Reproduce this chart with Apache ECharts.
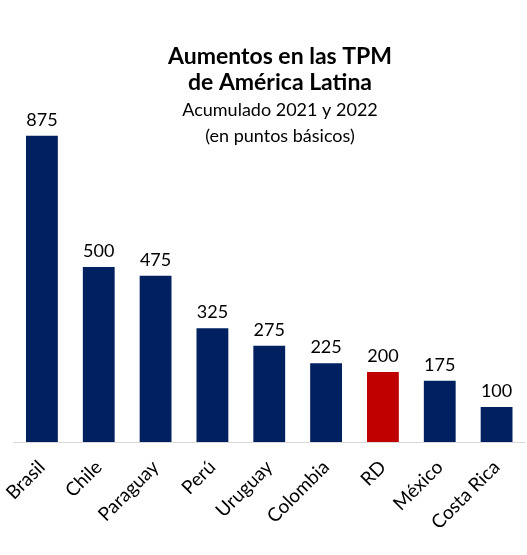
<!DOCTYPE html>
<html>
<head>
<meta charset="utf-8">
<script src="https://cdn.jsdelivr.net/npm/echarts@6/dist/echarts.min.js"></script>
<style>
  html, body { margin: 0; padding: 0; background: #fff; }
  #chart { width: 527px; height: 555px; }
</style>
</head>
<body>
<div id="chart"></div>
<script>
const countries = ["Brasil", "Chile", "Paraguay", "Perú", "Uruguay", "Colombia", "RD", "México", "Costa Rica"]
const increases = [875, 500, 475, 325, 275, 225, 200, 175, 100]
const highlighted = "RD"

const font = "Lato, 'DejaVu Sans', sans-serif"
const navy = "#002060"
const red = "#c00000"

const chart = echarts.init(document.getElementById("chart"))
const option = {
  animation: false,
  title: [
    {
      text: "Aumentos en las TPM\nde América Latina",
      left: 275,
      top: 39,
      textAlign: "center",
      textStyle: { fontFamily: font, fontSize: 23, fontWeight: "bold", color: "#000", lineHeight: 26 }
    },
    {
      text: "Acumulado 2021 y 2022\n(en puntos básicos)",
      left: 275,
      top: 92,
      textAlign: "center",
      textStyle: { fontFamily: font, fontSize: 18, fontWeight: "normal", color: "#000", lineHeight: 26 }
    }
  ],
  grid: { left: 13.5, right: 2, top: 92, bottom: 113, containLabel: false },
  xAxis: {
    type: "category",
    data: countries,
    axisLine: { lineStyle: { color: "#d9d9d9", width: 1 } },
    axisTick: { show: false },
    axisLabel: {
      rotate: 45,
      interval: 0,
      margin: 22,
      fontFamily: font,
      fontSize: 19,
      color: "#000"
    }
  },
  yAxis: {
    type: "value",
    min: 0,
    max: 1000,
    show: false,
    splitLine: { show: false }
  },
  series: [
    {
      type: "bar",
      barCategoryGap: "44%",
      data: increases.map((v, i) => ({
        value: v,
        itemStyle: { color: countries[i] === highlighted ? red : navy }
      })),
      label: {
        show: true,
        position: "top",
        distance: 7,
        fontFamily: font,
        fontSize: 18,
        color: "#000"
      }
    }
  ]
}
chart.setOption(option)
</script>
</body>
</html>
